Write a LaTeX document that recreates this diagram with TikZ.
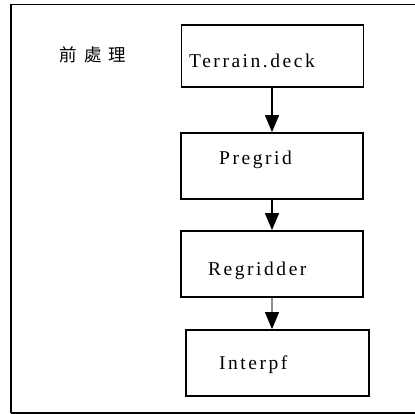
\documentclass[tikz,border=0pt]{standalone}
\usepackage{fontspec}
\setmainfont{Liberation Serif}
\newfontfamily\cjkfont{Noto Sans CJK TC}
\usetikzlibrary{arrows.meta,calc}
\tikzset{
  stepbox/.style={draw, line width=1.8pt, minimum width=#1, minimum height=66pt, inner sep=0pt},
  stepbox/.default=182pt,
  steptext/.style={anchor=base west, inner sep=0pt,
    font=\fontsize{19.5pt}{19.5pt}\selectfont\addfontfeature{LetterSpace=13}},
  flow/.style={line width=1.2pt, -{Triangle[length=17pt,width=14pt,color=black]}},
}
\begin{document}
\begin{tikzpicture}[x=1pt,y=-1pt]
  \useasboundingbox (0,0) rectangle (415,414);
  % outer frame (right edge lies beyond the page)
  \begin{scope}
    \clip (0,0) rectangle (415,414);
    \draw[line width=1.8pt] (11,4.5) -- (425,4.5);
    \draw[line width=1.8pt] (11,4.5) -- (11,413);
    \draw[line width=1.8pt] (11,413) -- (425,413);
  \end{scope}

  % section label
  \node[font=\cjkfont\fontsize{17.5pt}{17.5pt}\selectfont, inner sep=0pt] (lbl) at (93,55)
    {前\hspace{7pt}處\hspace{7pt}理};

  % processing steps
  \node[stepbox, minimum height=62pt] (terrain) at (272.5,56) {};
  \node[stepbox] (pregrid) at (272,166) {};
  \node[stepbox] (regrid) at (272,264) {};
  \node[stepbox=183pt] (interp) at (277.5,363) {};

  \node[steptext] (terrainT) at (189,68) {Terrain.deck};
  \node[steptext] (pregridT) at (219,165) {Pregrid};
  \node[steptext] (regridT) at (208,276) {Regridder};
  \node[steptext] (interpT) at (219,369) {Interpf};

  % connectors
  \draw[flow] (terrain.south -| 272,0) -- (pregrid.north -| 272,0);
  \draw[flow] (pregrid.south -| 272,0) -- (regrid.north -| 272,0);
  \draw[flow, draw=black!45] (regrid.south -| 272,0) -- (interp.north -| 272,0);
\end{tikzpicture}
\end{document}
